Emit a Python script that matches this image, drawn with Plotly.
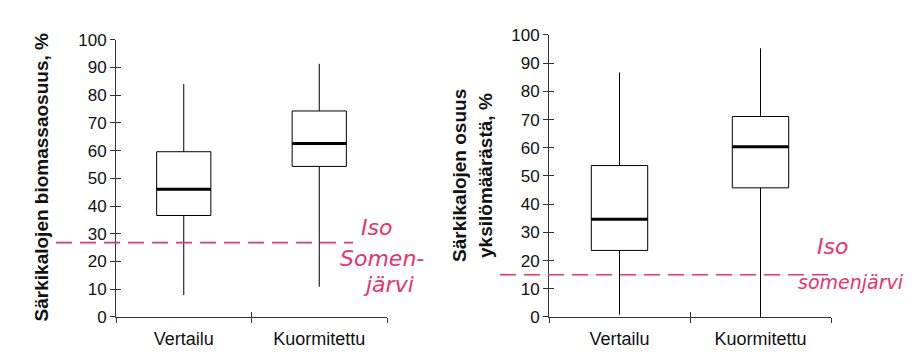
import plotly.graph_objects as go

W, H = 922, 354

categories = ["Vertailu", "Kuormitettu"]

# Left panel: biomass share (%)
bio_low = [7.9, 10.9]
bio_q1 = [36.6, 54.3]
bio_median = [46.1, 62.6]
bio_q3 = [59.6, 74.3]
bio_high = [84.0, 91.3]
iso_bio = 26.8

# Right panel: share of individuals (%)
ind_low = [0.8, 0.0]
ind_q1 = [23.6, 45.8]
ind_median = [34.7, 60.4]
ind_q3 = [53.7, 71.1]
ind_high = [86.7, 95.3]
iso_ind = 15.0

y_ticks = list(range(0, 101, 10))

PINK = "#e8336d"
AX = "#333333"
FONT = "Liberation Sans, Arial, sans-serif"


def px(x):
    return x / W


def py(y):
    return 1 - y / H


fig = go.Figure()

panels = [
    ("x", "y", bio_low, bio_q1, bio_median, bio_q3, bio_high),
    ("x2", "y2", ind_low, ind_q1, ind_median, ind_q3, ind_high),
]
for xa, ya, lo, q1, med, q3, hi in panels:
    fig.add_trace(go.Box(
        x=categories, q1=q1, median=med, q3=q3, lowerfence=lo, upperfence=hi,
        width=0.4, whiskerwidth=0, fillcolor="white", line=dict(color="black", width=1),
        boxpoints=False, xaxis=xa, yaxis=ya, showlegend=False, hoverinfo="skip"))
    fig.add_trace(go.Box(
        x=categories, q1=med, median=med, q3=med, lowerfence=med, upperfence=med,
        width=0.4, whiskerwidth=0, fillcolor="rgba(0,0,0,0)", line=dict(color="black", width=3),
        boxpoints=False, xaxis=xa, yaxis=ya, showlegend=False, hoverinfo="skip"))

# empty traces to enable overlay axes carrying inner tick halves
fig.add_trace(go.Scatter(x=[], y=[], xaxis="x3", yaxis="y3", showlegend=False))
fig.add_trace(go.Scatter(x=[], y=[], xaxis="x4", yaxis="y4", showlegend=False))

left_xd = [px(108), px(379)]
right_xd = [px(541), px(823)]
left_yd = [py(317), py(24)]
right_yd = [py(317), py(19)]

common_x = dict(type="category", tickson="boundaries", ticks="outside", ticklen=5,
                tickcolor=AX, tickwidth=1, showline=True, linecolor=AX, linewidth=1,
                showgrid=False, zeroline=False, range=[-0.5, 1.5], ticklabelstandoff=5,
                tickfont=dict(family=FONT, size=18, color="#111"), fixedrange=True)
common_y = dict(range=[0, 100], tickvals=y_ticks, ticks="outside", ticklen=5,
                tickcolor=AX, tickwidth=1, showline=True, linecolor=AX, linewidth=1,
                showgrid=False, zeroline=False,
                tickfont=dict(family=FONT, size=17, color="#111"), fixedrange=True)
inner_x = dict(range=[-0.5, 1.5], tickvals=[-0.5, 0.5, 1.5], ticks="inside", ticklen=5,
               tickcolor=AX, showticklabels=False, showline=False, showgrid=False,
               zeroline=False, fixedrange=True)
inner_y = dict(range=[0, 100], tickvals=y_ticks, ticks="inside", ticklen=5,
               tickcolor=AX, showticklabels=False, showline=False, showgrid=False,
               zeroline=False, fixedrange=True)

fig.update_layout(
    width=W, height=H,
    margin=dict(l=0, r=0, t=0, b=0),
    paper_bgcolor="white", plot_bgcolor="white",
    boxmode="overlay",
    xaxis=dict(domain=left_xd, anchor="y", **common_x),
    yaxis=dict(domain=left_yd, anchor="x", **common_y),
    xaxis2=dict(domain=right_xd, anchor="y2", **common_x),
    yaxis2=dict(domain=right_yd, anchor="x2", **common_y),
    xaxis3=dict(domain=left_xd, anchor="y", overlaying="x", **inner_x),
    yaxis3=dict(domain=left_yd, anchor="x", overlaying="y", **inner_y),
    xaxis4=dict(domain=right_xd, anchor="y2", overlaying="x2", **inner_x),
    yaxis4=dict(domain=right_yd, anchor="x2", overlaying="y2", **inner_y),
)

# Reference lines (Iso Somenjärvi)
fig.add_shape(type="line", xref="paper", yref="y", x0=px(48), x1=px(345),
              y0=iso_bio, y1=iso_bio, line=dict(color=PINK, width=1.6, dash="16px,8px"))
fig.add_shape(type="line", xref="paper", yref="y2", x0=px(492), x1=px(820),
              y0=iso_ind, y1=iso_ind, line=dict(color=PINK, width=1.6, dash="16px,8px"))

# Y-axis titles
title_font = dict(family=FONT, size=19, color="#111")
fig.add_annotation(text="<b>Särkikalojen biomassaosuus, %</b>", xref="paper", yref="paper",
                   x=px(21), y=py(170), textangle=-90, showarrow=False, font=title_font)
fig.add_annotation(text="<b>Särkikalojen osuus</b>", xref="paper", yref="paper",
                   x=px(452), y=py(168), textangle=-90, showarrow=False, font=title_font)
fig.add_annotation(text="<b>yksilömäärästä, %</b>", xref="paper", yref="paper",
                   x=px(478), y=py(168), textangle=-90, showarrow=False, font=title_font)

# Handwritten notes
hand = dict(family="DejaVu Sans, sans-serif", size=22, color=PINK)
fig.add_annotation(text="<i>Iso</i>", xref="paper", yref="paper", x=px(368), y=py(238),
                   showarrow=False, font=hand)
fig.add_annotation(text="<i>Somen-</i>", xref="paper", yref="paper", x=px(374), y=py(270),
                   showarrow=False, font=hand)
fig.add_annotation(text="<i>järvi</i>", xref="paper", yref="paper", x=px(380), y=py(298),
                   showarrow=False, font=hand)
fig.add_annotation(text="<i>Iso</i>", xref="paper", yref="paper", x=px(842), y=py(258),
                   showarrow=False, font=hand)
fig.add_annotation(text="<i>somenjärvi</i>", xref="paper", yref="paper", x=px(788), y=py(294),
                   xanchor="left", showarrow=False,
                   font=dict(family="DejaVu Sans, sans-serif", size=19, color=PINK))

fig.write_html("out.html")
